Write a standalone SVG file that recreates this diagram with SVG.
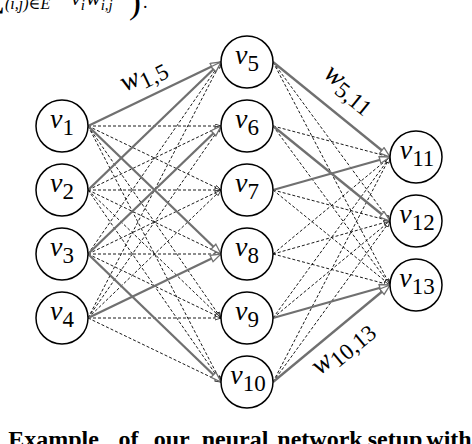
<svg xmlns="http://www.w3.org/2000/svg" width="472" height="444" viewBox="0 0 472 444">
<style>
.d{stroke:#000;stroke-width:0.9;stroke-dasharray:3,2;fill:none;marker-end:url(#ad)}
.g{stroke:#707070;stroke-width:2.3;fill:none;marker-end:url(#ag)}
.n circle{fill:#fff;stroke:#000;stroke-width:1.5}
.lb{text-anchor:middle}
.v{font-style:italic;font-size:28px}
.s{font-size:23px}
.cap{font-weight:bold;font-size:24px;text-anchor:middle}
</style>
<defs>
<marker id="ag" markerUnits="userSpaceOnUse" markerWidth="13" markerHeight="10" refX="11.5" refY="4.5" orient="auto"><path d="M1,1 L11.5,4.5 L1,8 z" fill="#fff" stroke="#707070" stroke-width="1.3"/></marker>
<marker id="ad" markerUnits="userSpaceOnUse" markerWidth="8" markerHeight="6" refX="6.5" refY="2.5" orient="auto"><path d="M0.5,0.5 L6.5,2.5 L0.5,4.5 z" fill="#fff" stroke="#000" stroke-width="0.7"/></marker>
</defs>

<g id="top-text" font-family="'Liberation Serif', 'DejaVu Serif', serif">
<text x="5" y="7" font-size="30" text-anchor="end">∑</text>
<text x="5" y="9" font-size="16" font-style="italic">(i,j)∈E</text>
<text x="71" y="5" font-size="22" font-style="italic">v<tspan font-size="15" dy="5">i</tspan></text>
<text x="86" y="5" font-size="22" font-style="italic">w<tspan font-size="15" dy="5">i,j</tspan></text>
<text x="129" y="13" font-size="36">)</text>
<text x="143" y="8" font-size="18">.</text>
</g>

<g id="connectors">
<line class="d" x1="88" y1="126" x2="221" y2="126"/>
<line class="d" x1="88" y1="126" x2="221" y2="190"/>
<line class="d" x1="88" y1="126" x2="221" y2="318"/>
<line class="d" x1="88" y1="126" x2="221" y2="382"/>
<line class="d" x1="88" y1="190" x2="221" y2="126"/>
<line class="d" x1="88" y1="190" x2="221" y2="190"/>
<line class="d" x1="88" y1="190" x2="221" y2="254"/>
<line class="d" x1="88" y1="190" x2="221" y2="318"/>
<line class="d" x1="88" y1="190" x2="221" y2="382"/>
<line class="d" x1="88" y1="254" x2="221" y2="62"/>
<line class="d" x1="88" y1="254" x2="221" y2="190"/>
<line class="d" x1="88" y1="254" x2="221" y2="254"/>
<line class="d" x1="88" y1="254" x2="221" y2="318"/>
<line class="d" x1="88" y1="318" x2="221" y2="62"/>
<line class="d" x1="88" y1="318" x2="221" y2="126"/>
<line class="d" x1="88" y1="318" x2="221" y2="190"/>
<line class="d" x1="88" y1="318" x2="221" y2="318"/>
<line class="d" x1="88" y1="318" x2="221" y2="382"/>
<line class="d" x1="273" y1="62" x2="390" y2="221"/>
<line class="d" x1="273" y1="62" x2="390" y2="285"/>
<line class="d" x1="273" y1="126" x2="390" y2="157"/>
<line class="d" x1="273" y1="126" x2="390" y2="285"/>
<line class="d" x1="273" y1="190" x2="390" y2="221"/>
<line class="d" x1="273" y1="190" x2="390" y2="285"/>
<line class="d" x1="273" y1="254" x2="390" y2="157"/>
<line class="d" x1="273" y1="254" x2="390" y2="221"/>
<line class="d" x1="273" y1="254" x2="390" y2="285"/>
<line class="d" x1="273" y1="318" x2="390" y2="157"/>
<line class="d" x1="273" y1="318" x2="390" y2="221"/>
<line class="d" x1="273" y1="382" x2="390" y2="157"/>
<line class="d" x1="273" y1="382" x2="390" y2="221"/>

<line class="g" x1="88" y1="126" x2="221" y2="62"/>
<line class="g" x1="88" y1="190" x2="221" y2="62"/>
<line class="g" x1="88" y1="126" x2="221" y2="254"/>
<line class="g" x1="88" y1="254" x2="221" y2="126"/>
<line class="g" x1="88" y1="254" x2="221" y2="382"/>
<line class="g" x1="88" y1="318" x2="221" y2="254"/>
<line class="g" x1="273" y1="62" x2="390" y2="157"/>
<line class="g" x1="273" y1="126" x2="390" y2="221"/>
<line class="g" x1="273" y1="190" x2="390" y2="157"/>
<line class="g" x1="273" y1="318" x2="390" y2="285"/>
<line class="g" x1="273" y1="382" x2="390" y2="285"/>

<g font-family="'Liberation Serif', 'DejaVu Serif', serif">
<text class="lb" transform="translate(145,79) rotate(-25.7)" y="3"><tspan class="v">w</tspan><tspan class="s" dy="6">1,5</tspan></text>
<text class="lb" transform="translate(347,92) rotate(39)" y="3"><tspan class="v">w</tspan><tspan class="s" dy="6">5,11</tspan></text>
<text class="lb" transform="translate(345,351) rotate(-39.7)" y="3"><tspan class="v">w</tspan><tspan class="s" dy="6">10,13</tspan></text>
</g>
</g>

<g font-family="'Liberation Serif', 'DejaVu Serif', serif">
<g id="v1" class="n"><circle cx="62" cy="126" r="26"/><text class="lb" x="62" y="128"><tspan class="v">v</tspan><tspan class="s" dy="7">1</tspan></text></g>
<g id="v2" class="n"><circle cx="62" cy="190" r="26"/><text class="lb" x="62" y="192"><tspan class="v">v</tspan><tspan class="s" dy="7">2</tspan></text></g>
<g id="v3" class="n"><circle cx="62" cy="254" r="26"/><text class="lb" x="62" y="256"><tspan class="v">v</tspan><tspan class="s" dy="7">3</tspan></text></g>
<g id="v4" class="n"><circle cx="62" cy="318" r="26"/><text class="lb" x="62" y="320"><tspan class="v">v</tspan><tspan class="s" dy="7">4</tspan></text></g>
<g id="v5" class="n"><circle cx="247" cy="62" r="26"/><text class="lb" x="247" y="64"><tspan class="v">v</tspan><tspan class="s" dy="7">5</tspan></text></g>
<g id="v6" class="n"><circle cx="247" cy="126" r="26"/><text class="lb" x="247" y="128"><tspan class="v">v</tspan><tspan class="s" dy="7">6</tspan></text></g>
<g id="v7" class="n"><circle cx="247" cy="190" r="26"/><text class="lb" x="247" y="192"><tspan class="v">v</tspan><tspan class="s" dy="7">7</tspan></text></g>
<g id="v8" class="n"><circle cx="247" cy="254" r="26"/><text class="lb" x="247" y="256"><tspan class="v">v</tspan><tspan class="s" dy="7">8</tspan></text></g>
<g id="v9" class="n"><circle cx="247" cy="318" r="26"/><text class="lb" x="247" y="320"><tspan class="v">v</tspan><tspan class="s" dy="7">9</tspan></text></g>
<g id="v10" class="n"><circle cx="247" cy="382" r="26"/><text class="lb" x="248" y="384"><tspan class="v">v</tspan><tspan class="s" dy="7">10</tspan></text></g>
<g id="v11" class="n"><circle cx="416" cy="157" r="26"/><text class="lb" x="417" y="159"><tspan class="v">v</tspan><tspan class="s" dy="7">11</tspan></text></g>
<g id="v12" class="n"><circle cx="416" cy="221" r="26"/><text class="lb" x="417" y="223"><tspan class="v">v</tspan><tspan class="s" dy="7">12</tspan></text></g>
<g id="v13" class="n"><circle cx="416" cy="285" r="26"/><text class="lb" x="417" y="287"><tspan class="v">v</tspan><tspan class="s" dy="7">13</tspan></text></g>
</g>

<text id="caption" class="cap" font-family="'Liberation Serif', 'DejaVu Serif', serif" y="447"><tspan x="56.5">Example</tspan> <tspan x="131.5">of</tspan> <tspan x="174.5">our</tspan> <tspan x="238">neural</tspan> <tspan x="323">network</tspan> <tspan x="398">setup</tspan> <tspan x="449">with</tspan></text>
</svg>
